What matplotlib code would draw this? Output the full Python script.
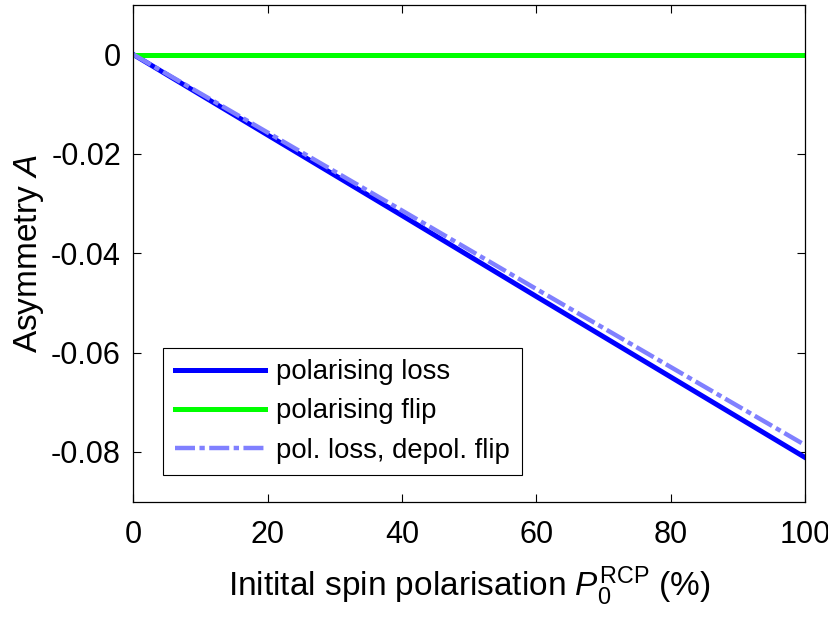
import matplotlib
matplotlib.use('Agg')
import matplotlib.pyplot as plt

# initial spin polarisation (%)
polarisation = [0, 20, 40, 60, 80, 100]
# asymmetry for each model
polLoss = [0, -0.0162, -0.0324, -0.0487, -0.0649, -0.0811]
polFlip = [0, 0, 0, 0, 0, 0]
polLossDepolFlip = [0, -0.0157, -0.0314, -0.0472, -0.0629, -0.0786]

plt.rcParams['font.family'] = ['Liberation Sans', 'DejaVu Sans']
plt.rcParams['mathtext.fontset'] = 'custom'
plt.rcParams['mathtext.rm'] = 'Liberation Sans'
plt.rcParams['mathtext.it'] = 'Liberation Sans:italic'

fig = plt.figure(figsize=(8.29, 6.17), dpi=100)
ax = fig.add_axes([0.161, 0.187, 0.810, 0.805])

ax.plot(polarisation, polLoss, color='#0000ff', linewidth=3.6, label='polarising loss')
ax.plot(polarisation, polFlip, color='#00ff00', linewidth=3.6, label='polarising flip')
ax.plot(polarisation, polLossDepolFlip, color='#8080ff', linewidth=3.2,
        dashes=(4.5, 1.0, 1.2, 1.0), label='pol. loss, depol. flip')

ax.set_xlim(0, 100)
ax.set_ylim(-0.09, 0.01)
ax.set_xticks([0, 20, 40, 60, 80, 100])
ax.set_yticks([-0.08, -0.06, -0.04, -0.02, 0])
ax.set_yticklabels(['-0.08', '-0.06', '-0.04', '-0.02', '0'])
ax.tick_params(direction='in', top=True, right=True, length=6, width=0.8,
               labelsize=22)
ax.tick_params(axis='x', pad=13)
ax.tick_params(axis='y', pad=9)
for s in ax.spines.values():
    s.set_linewidth(0.9)

ax.set_xlabel(r'Initital spin polarisation $P_0^{\mathrm{RCP}}$ (%)', fontsize=24, labelpad=11)
ax.set_ylabel(r'Asymmetry $A$', fontsize=24, labelpad=4)

leg = ax.legend(loc='upper left', bbox_to_anchor=(0.044, 0.31), fontsize=19.8,
                fancybox=False, framealpha=1, edgecolor='black', borderaxespad=0,
                handlelength=3.3, handletextpad=0.4, borderpad=0.42, labelspacing=0.48)
leg.get_frame().set_linewidth(0.8)

fig.savefig('out.png', dpi=100)
